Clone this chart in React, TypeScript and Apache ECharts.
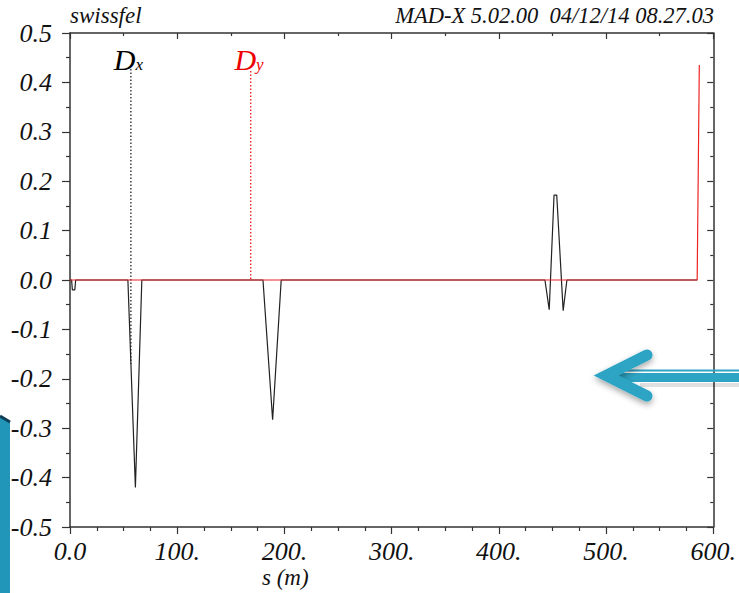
import React, { useEffect, useRef } from "react";
import * as echarts from "echarts";

const dxPoints: [number, number][] = [
  [0, 0], [1.5, 0], [2.2, -0.02], [4.5, -0.02], [5.3, 0],
  [54, 0], [61, -0.42], [67, 0],
  [180, 0], [189, -0.283], [197, 0],
  [443, 0], [447, -0.06], [451.5, 0.172], [454, 0.172], [460, -0.062], [463.5, 0],
  [585, 0],
];
const dyPoints: [number, number][] = [
  [0, 0], [585, 0], [587, 0.435],
];
const dxMarker: [number, number][] = [[56.8, 0.427], [56.8, -0.17]];
const dyMarker: [number, number][] = [[168.6, 0.423], [168.6, 0]];
const xTicks = { min: 0, max: 600, interval: 100 };
const yTicks = { min: -0.5, max: 0.5, interval: 0.1 };
const titleLeft = "swissfel";
const titleRight = "MAD-X 5.02.00  04/12/14 08.27.03";
const xName = "s (m)";

const FONT = "Liberation Serif";
const AX = "#333";

export default function App() {
  const ref = useRef<HTMLDivElement>(null);
  useEffect(() => {
    if (!ref.current) return;
    const chart = echarts.init(ref.current, undefined, { renderer: "svg" });
    const xLab = (v: number) => (v === 0 ? "0.0" : `${Math.round(v)}.`);
    const yLab = (v: number) => {
      const s = v.toFixed(1);
      return s === "-0.0" ? "0.0" : s;
    };
    const txt = (size: number, color = "#111") => ({
      fontFamily: FONT, fontStyle: "italic", fontSize: size, fill: color,
    });
    chart.setOption({
      animation: false,
      backgroundColor: "#fff",
      grid: { left: 70, right: 25, top: 33, bottom: 66 },
      xAxis: [
        {
          type: "value", ...xTicks, position: "bottom",
          axisLine: { onZero: false, lineStyle: { color: AX, width: 1.5 } },
          axisTick: { inside: false, length: 7, lineStyle: { color: AX, width: 1.2 } },
          minorTick: { show: true, splitNumber: 4, length: 4, lineStyle: { color: AX, width: 1.2 } },
          splitLine: { show: false },
          axisLabel: {
            formatter: xLab, fontFamily: FONT, fontStyle: "italic", fontSize: 26, color: "#111", margin: 11,
          },
        },
        {
          type: "value", ...xTicks, position: "top",
          axisLine: { onZero: false, lineStyle: { color: AX, width: 1.5 } },
          axisTick: { inside: true, length: 6, lineStyle: { color: AX, width: 1.2 } },
          minorTick: { show: true, splitNumber: 2, length: 3, lineStyle: { color: AX, width: 1.2 } },
          splitLine: { show: false },
          axisLabel: { show: false },
        },
      ],
      yAxis: [
        {
          type: "value", ...yTicks, position: "left",
          axisLine: { show: true, onZero: false, lineStyle: { color: AX, width: 1.5 } },
          axisTick: { show: true, inside: false, length: 8, lineStyle: { color: AX, width: 1.2 } },
          minorTick: { show: true, splitNumber: 2, length: 4, lineStyle: { color: AX, width: 1.2 } },
          splitLine: { show: false },
          axisLabel: {
            formatter: yLab, fontFamily: FONT, fontStyle: "italic", fontSize: 26, color: "#111", margin: 18,
          },
        },
        {
          type: "value", ...yTicks, position: "right",
          axisLine: { show: true, onZero: false, lineStyle: { color: AX, width: 1.5 } },
          axisTick: { show: true, inside: true, length: 6, lineStyle: { color: AX, width: 1.2 } },
          minorTick: { show: true, splitNumber: 2, length: 3, lineStyle: { color: AX, width: 1.2 } },
          splitLine: { show: false },
          axisLabel: { show: false },
        },
      ],
      series: [
        {
          name: "Dx-marker", type: "line", data: dxMarker, symbol: "none",
          lineStyle: { color: "#111", width: 1.2, type: [1.5, 2] },
          markPoint: {
            symbol: "circle", symbolSize: 0,
            data: [{ coord: [54.5, 0.446] }],
            label: {
              show: true, formatter: "{d|D}{s|x}",
              rich: {
                d: { fontFamily: FONT, fontStyle: "italic", fontSize: 30, color: "#000" },
                s: { fontFamily: FONT, fontStyle: "italic", fontSize: 17, color: "#000", padding: [10, 0, 0, 0] },
              },
            },
          },
        },
        {
          name: "Dy-marker", type: "line", data: dyMarker, symbol: "none",
          lineStyle: { color: "#ee0000", width: 1.2, type: [1.5, 2] },
          markPoint: {
            symbol: "circle", symbolSize: 0,
            data: [{ coord: [167, 0.446] }],
            label: {
              show: true, formatter: "{d|D}{s|y}",
              rich: {
                d: { fontFamily: FONT, fontStyle: "italic", fontSize: 30, color: "#ee0000" },
                s: { fontFamily: FONT, fontStyle: "italic", fontSize: 17, color: "#ee0000", padding: [10, 0, 0, 0] },
              },
            },
          },
        },
        {
          name: "Dx", type: "line", data: dxPoints, symbol: "none",
          lineStyle: { color: "#222", width: 1.2 },
        },
        {
          name: "Dy", type: "line", data: dyPoints, symbol: "none",
          lineStyle: { color: "#ee2222", width: 1.2 },
        },
      ],
      graphic: [
        { type: "text", left: 70, top: 4, style: { text: titleLeft, ...txt(23) } },
        { type: "text", right: 25, top: 4, style: { text: titleRight, ...txt(22.5) } },
        { type: "text", left: 262, top: 566, style: { text: xName, ...txt(23) } },
        {
          type: "polygon",
          shape: { points: [[0, 416], [10, 421], [10, 593], [0, 593]] },
          style: { fill: "#2196b8" },
          z: 100,
        },
        {
          type: "line",
          shape: { x1: 0, y1: 416, x2: 10, y2: 422 },
          style: { stroke: "#0e3f55", lineWidth: 3 },
          z: 101,
        },
        {
          type: "rect",
          shape: { x: 640, y: 383, width: 99, height: 4 },
          style: { fill: "rgba(0,0,0,0.12)" },
          z: 99,
        },
        {
          type: "rect",
          shape: { x: 624, y: 369.5, width: 115, height: 2 },
          style: { fill: "#2ea4c4" },
          z: 100,
        },
        {
          type: "rect",
          shape: { x: 612, y: 373, width: 127, height: 9 },
          style: { fill: "#2ea4c4" },
          z: 100,
        },
        {
          type: "polyline",
          shape: { points: [[647, 355], [606, 375.5], [647, 396]] },
          style: {
            stroke: "#2ea4c4", lineWidth: 11, lineCap: "round", lineJoin: "miter", fill: "none",
            shadowBlur: 6, shadowColor: "rgba(0,0,0,0.35)", shadowOffsetY: 3,
          },
          z: 101,
        },
      ],
    });
    return () => chart.dispose();
  }, []);
  return <div ref={ref} style={{ width: 739, height: 593, position: "absolute", left: 0, top: 0 }} />;
}
